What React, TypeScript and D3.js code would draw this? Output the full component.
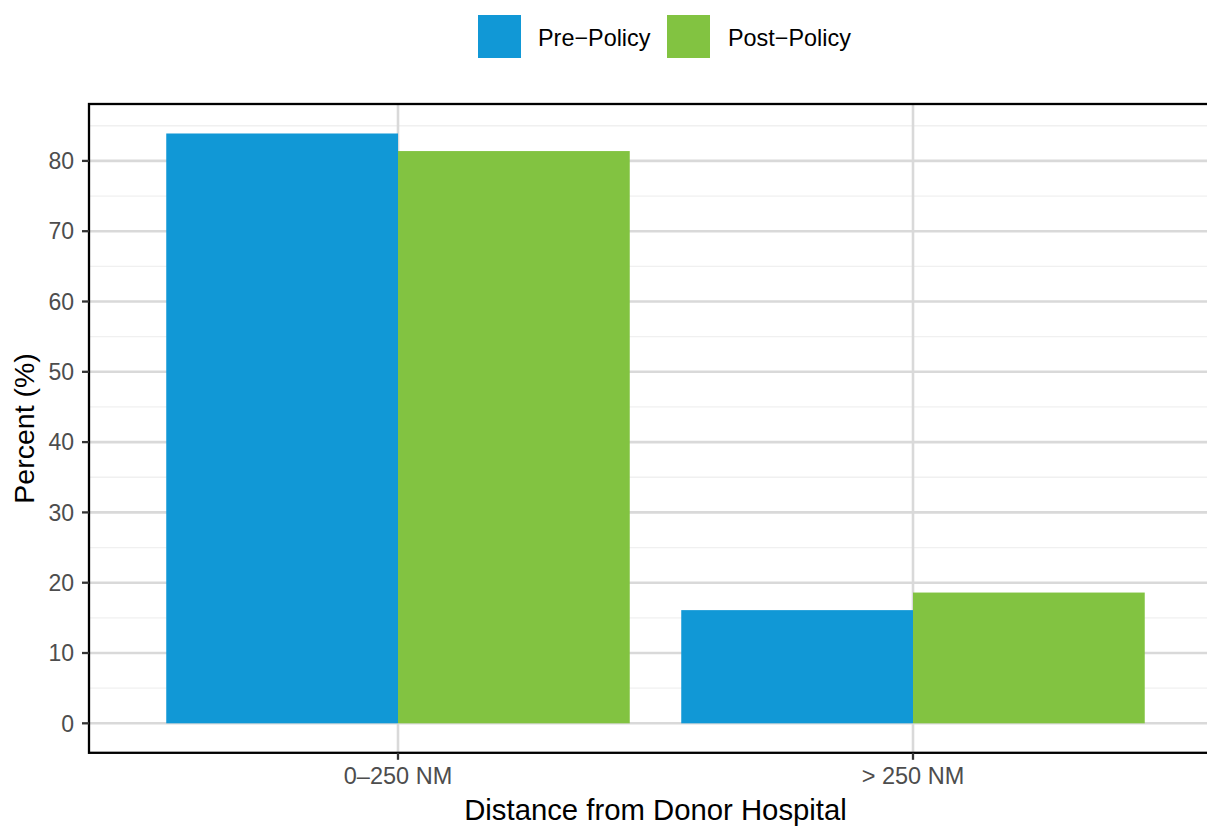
import React from "react";
import * as d3 from "d3";

const categories = ["0–250 NM", "> 250 NM"];
const seriesNames = ["Pre−Policy", "Post−Policy"];
const preValues = [83.9, 16.1];
const postValues = [81.4, 18.6];
const yTicks = [0, 10, 20, 30, 40, 50, 60, 70, 80];
const yMinorTicks = [5, 15, 25, 35, 45, 55, 65, 75, 85];
const colors = ["#1198d6", "#82c341"];

const W = 1207;
const H = 829;
const panel = { left: 89, right: 1222, top: 104, bottom: 752.8 };

export default function App() {
  const x = d3
    .scaleBand<string>()
    .domain(categories)
    .range([panel.left, panel.right])
    .paddingInner(0.1)
    .paddingOuter(0.15);
  const xs = d3.scaleBand<string>().domain(seriesNames).range([0, x.bandwidth()]).padding(0);
  const maxV = d3.max([...preValues, ...postValues]) as number;
  const exp = maxV * 0.05;
  const y = d3.scaleLinear().domain([-exp, maxV + exp]).range([panel.bottom, panel.top]);

  const data = categories.map((c, i) => ({
    cat: c,
    vals: [
      { s: seriesNames[0], v: preValues[i] },
      { s: seriesNames[1], v: postValues[i] },
    ],
  }));

  const font = "'Liberation Sans', Arial, Helvetica, sans-serif";

  return (
    <svg
      width={W}
      height={H}
      style={{ position: "absolute", left: 0, top: 0, background: "#fff" }}
      fontFamily={font}
    >
      <defs>
        <clipPath id="pclip">
          <rect x={panel.left} y={panel.top} width={panel.right - panel.left} height={panel.bottom - panel.top} />
        </clipPath>
      </defs>
      <rect x={0} y={0} width={W} height={H} fill="#fff" />
      {/* grid */}
      <g clipPath="url(#pclip)">
        {yMinorTicks.map((t) => (
          <line key={"mn" + t} x1={panel.left} x2={panel.right} y1={y(t)} y2={y(t)} stroke="#f0f0f0" strokeWidth={1.3} />
        ))}
        {yTicks.map((t) => (
          <line key={"mj" + t} x1={panel.left} x2={panel.right} y1={y(t)} y2={y(t)} stroke="#d9d9d9" strokeWidth={2.6} />
        ))}
        {categories.map((c) => (
          <line
            key={"vx" + c}
            x1={(x(c) as number) + x.bandwidth() / 2}
            x2={(x(c) as number) + x.bandwidth() / 2}
            y1={panel.top}
            y2={panel.bottom}
            stroke="#d9d9d9"
            strokeWidth={2.6}
          />
        ))}
        {data.map((d) =>
          d.vals.map((b, j) => (
            <rect
              key={d.cat + b.s}
              x={(x(d.cat) as number) + (xs(b.s) as number)}
              width={xs.bandwidth()}
              y={y(b.v)}
              height={y(0) - y(b.v)}
              fill={colors[j]}
            />
          ))
        )}
      </g>
      {/* panel border */}
      <rect
        x={panel.left}
        y={panel.top}
        width={panel.right - panel.left}
        height={panel.bottom - panel.top}
        fill="none"
        stroke="#000"
        strokeWidth={2.3}
      />
      {/* y axis */}
      {yTicks.map((t) => (
        <g key={"yt" + t}>
          <line x1={panel.left - 7} x2={panel.left} y1={y(t)} y2={y(t)} stroke="#333" strokeWidth={2.3} />
          <text x={74} y={y(t)} dy="0.36em" textAnchor="end" fontSize={23} fill="#4d4d4d">
            {t}
          </text>
        </g>
      ))}
      {/* x axis */}
      {categories.map((c) => {
        const cx = (x(c) as number) + x.bandwidth() / 2;
        return (
          <g key={"xt" + c}>
            <line x1={cx} x2={cx} y1={panel.bottom} y2={panel.bottom + 7} stroke="#333" strokeWidth={2.3} />
            <text x={cx} y={784} textAnchor="middle" fontSize={23.5} fill="#4d4d4d">
              {c}
            </text>
          </g>
        );
      })}
      {/* titles */}
      <text x={(panel.left + panel.right) / 2} y={820} textAnchor="middle" fontSize={29.3} fill="#000">
        Distance from Donor Hospital
      </text>
      <text
        transform={`translate(34, ${(panel.top + panel.bottom) / 2}) rotate(-90)`}
        textAnchor="middle"
        fontSize={28.5}
        fill="#000"
      >
        Percent (%)
      </text>
      {/* legend */}
      {seriesNames.map((s, i) => {
        const kx = [478, 667][i];
        const tx = [538, 728][i];
        return (
          <g key={"lg" + s}>
            <rect x={kx} y={15} width={43} height={43} fill={colors[i]} />
            <text x={tx} y={46} fontSize={23.4} fill="#000">
              {s}
            </text>
          </g>
        );
      })}
    </svg>
  );
}
